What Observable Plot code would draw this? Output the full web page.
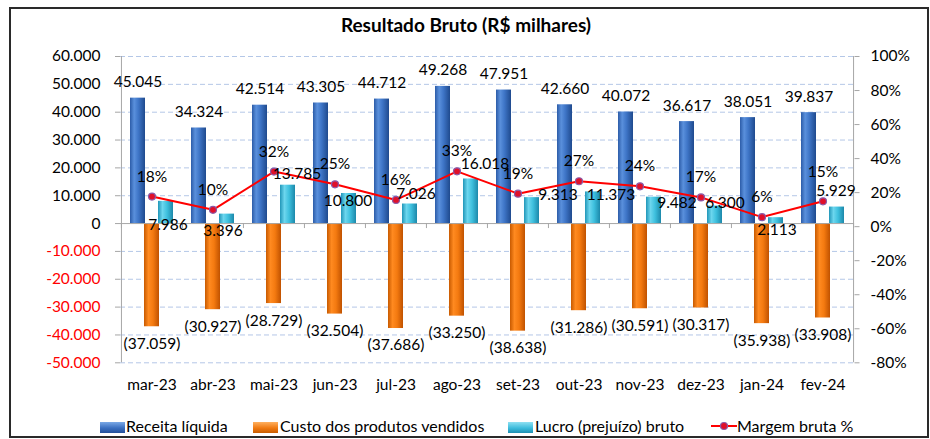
<!DOCTYPE html>
<html>
<head>
<meta charset="utf-8">
<script src="https://cdn.jsdelivr.net/npm/d3@7"></script>
<script src="https://cdn.jsdelivr.net/npm/@observablehq/plot@0.6"></script>
<style>
  html, body { margin: 0; padding: 0; background: #fff; }
  #wrap { position: relative; width: 930px; height: 439px; overflow: hidden; font-family: Lato, "Open Sans", sans-serif; color: #000; }
  #border { position: absolute; left: 9px; top: 7px; width: 920px; height: 431px; border: 2px solid #2a2a2a; box-sizing: border-box; }
  #title { position: absolute; left: 0; top: 13px; width: 932px; text-align: center; font-weight: bold; font-size: 19px; line-height: 24px; }
  #chart { position: absolute; left: 0; top: 0; }
  .leg { position: absolute; top: 416px; height: 20px; line-height: 20px; font-size: 16px; white-space: nowrap; }
  .sw { position: absolute; top: 422px; width: 25px; height: 11px; }
</style>
</head>
<body>
<div id="wrap">
  <div id="border"></div>
  <div id="title">Resultado Bruto (R$ milhares)</div>
  <div id="chart"></div>
  <div class="sw" style="left:100px;background:linear-gradient(to bottom,#7aa8e6,#3a6fc0 55%,#24509a);"></div>
  <div class="leg" style="left:126px;">Receita líquida</div>
  <div class="sw" style="left:253px;background:linear-gradient(to bottom,#ffb060,#f07a12 55%,#c85c00);"></div>
  <div class="leg" style="left:280px;">Custo dos produtos vendidos</div>
  <div class="sw" style="left:508px;background:linear-gradient(to bottom,#8fe0f2,#3cbcdc 55%,#1f8fb2);"></div>
  <div class="leg" style="left:535px;">Lucro (prejuízo) bruto</div>
  <svg style="position:absolute;left:710px;top:419px;" width="28" height="14">
    <line x1="1" y1="7" x2="27" y2="7" stroke="#ff0000" stroke-width="2"/>
    <circle cx="14" cy="7" r="3.5" fill="#e0102a" stroke="#8a5aa8" stroke-width="1.2"/>
  </svg>
  <div class="leg" style="left:737px;">Margem bruta %</div>
</div>
<script>
// ---- data ----
const months = ["mar-23","abr-23","mai-23","jun-23","jul-23","ago-23","set-23","out-23","nov-23","dez-23","jan-24","fev-24"];
const receita = [45045, 34324, 42514, 43305, 44712, 49268, 47951, 42660, 40072, 36617, 38051, 39837];
const custo = [-37059, -30927, -28729, -32504, -37686, -33250, -38638, -31286, -30591, -30317, -35938, -33908];
const lucro = [7986, 3396, 13785, 10800, 7026, 16018, 9313, 11373, 9482, 6300, 2113, 5929];
const margem = [17.7, 9.9, 32.4, 24.9, 15.7, 32.5, 19.4, 26.7, 23.7, 17.2, 5.6, 14.9];
const leftTicks = [-50000, -40000, -30000, -20000, -10000, 0, 10000, 20000, 30000, 40000, 50000, 60000];
const rightTicks = [-80, -60, -40, -20, 0, 20, 40, 60, 80, 100];

// ---- layout ----
const W = 930, H = 400, mL = 120, mR = 76.5, mT = 56, mB = 37.7;
const step = (W - mL - mR) / months.length;
const ppu = (H - mT - mB) / 110000;
// label nudges (pixels), as placed in the original
const lucroNudge = [[2,24],[-4,17],[9,-11],[-1,8],[6,-10],[14,-15],[26,-3],[18,3],[23,6],[10,-3],[1,12],[-1,-16]];
const margemDy = [-20,-20,-20,-20,-20,-20,-20,-20,-20,-20,-20,-29];

const loc = d3.formatLocale({decimal: ",", thousands: ".", grouping: [3], currency: ["R$", ""], minus: "-"});
const fmt = loc.format(",.0f");
const toLeft = p => -50000 + (p + 80) / 180 * 110000;
const toPct = v => (v + 50000) / 110000 * 180 - 80;

const rows = months.map((m, i) => ({month: m, receita: receita[i], custo: custo[i], lucro: lucro[i], margem: margem[i]}));
const gray = "#a6a6a6";

const marks = [
  Plot.ruleY(leftTicks.filter(v => v !== 0), {stroke: "#b4c7e7", strokeDasharray: "5,3"}),
  Plot.barY(rows, {x: "month", y: "receita", dx: -14, fill: "url(#gBlue)"}),
  Plot.barY(rows, {x: "month", y: "custo", fill: "url(#gOrange)"}),
  Plot.barY(rows, {x: "month", y: "lucro", dx: 14, fill: "url(#gCyan)"}),
  Plot.ruleY([0], {stroke: gray}),
  Plot.ruleX(months, {x: d => d, dx: -step / 2, y1: 0, y2: -5 / ppu, stroke: gray}),
  Plot.ruleX([months[months.length - 1]], {x: d => d, dx: step / 2, y1: 0, y2: -5 / ppu, stroke: gray}),
  Plot.ruleX([months[0]], {x: d => d, dx: -step / 2, y1: -50000, y2: 60000, stroke: gray}),
  Plot.ruleX([months[months.length - 1]], {x: d => d, dx: step / 2, y1: -50000, y2: 60000, stroke: gray}),
  Plot.line(rows, {x: "month", y: d => toLeft(d.margem), stroke: "#ff0000", strokeWidth: 2}),
  Plot.dot(rows, {x: "month", y: d => toLeft(d.margem), r: 3.5, fill: "#e0102a", stroke: "#8a5aa8", strokeWidth: 1.2}),
  Plot.text(rows, {x: "month", y: "receita", text: d => fmt(d.receita), dx: -14, dy: -16, fill: "#000"}),
  Plot.text(rows, {x: "month", y: "custo", text: d => "(" + fmt(-d.custo) + ")", dy: 17, fill: "#000"}),
  ...rows.map((r, i) => Plot.text([r], {x: "month", y: d => toLeft(d.margem), text: d => Math.round(d.margem) + "%", dy: margemDy[i], fill: "#000"})),
  ...rows.map((r, i) => Plot.text([r], {x: "month", y: "lucro", text: d => fmt(d.lucro), dx: 14 + lucroNudge[i][0], dy: lucroNudge[i][1], fill: "#000"})),
  Plot.axisY(leftTicks.filter(v => v >= 0), {anchor: "left", tickSize: 5, tickPadding: 15, tickFormat: fmt, stroke: gray, fill: "#000", label: null}),
  Plot.axisY(leftTicks.filter(v => v < 0), {anchor: "left", tickSize: 5, tickPadding: 15, tickFormat: fmt, stroke: gray, fill: "#ff0000", label: null}),
  Plot.axisY(rightTicks.map(toLeft), {anchor: "right", tickSize: 5, tickPadding: 11.5, tickFormat: v => Math.round(toPct(v)) + "%", stroke: gray, fill: "#000", label: null}),
  Plot.axisX({anchor: "bottom", tickSize: 0, tickPadding: 16, label: null, fill: "#000"})
];

const svg = Plot.plot({
  width: W, height: H,
  marginLeft: mL, marginRight: mR, marginTop: mT, marginBottom: mB,
  x: {type: "band", domain: months, paddingInner: 0.746, paddingOuter: 0.373, axis: null},
  y: {domain: [-50000, 60000], axis: null},
  style: {fontFamily: "Lato, 'Open Sans', sans-serif", fontSize: "15.5px", background: "transparent", overflow: "visible"},
  marks
});

const defs = d3.select(svg).insert("defs", ":first-child");
function grad(id, stops) {
  const g = defs.append("linearGradient").attr("id", id).attr("x1", "0").attr("x2", "1").attr("y1", "0").attr("y2", "0");
  stops.forEach(([o, c]) => g.append("stop").attr("offset", o).attr("stop-color", c));
}
grad("gBlue", [[0, "#2c5ca8"], [0.28, "#5a90dc"], [0.55, "#3f76c8"], [1, "#1f4a8e"]]);
grad("gOrange", [[0, "#c85a00"], [0.3, "#ff8a20"], [0.6, "#f47a10"], [1, "#c05200"]]);
grad("gCyan", [[0, "#2196b8"], [0.3, "#6cd6ee"], [0.6, "#3ec0de"], [1, "#1c88aa"]]);

document.getElementById("chart").appendChild(svg);
</script>
</body>
</html>
